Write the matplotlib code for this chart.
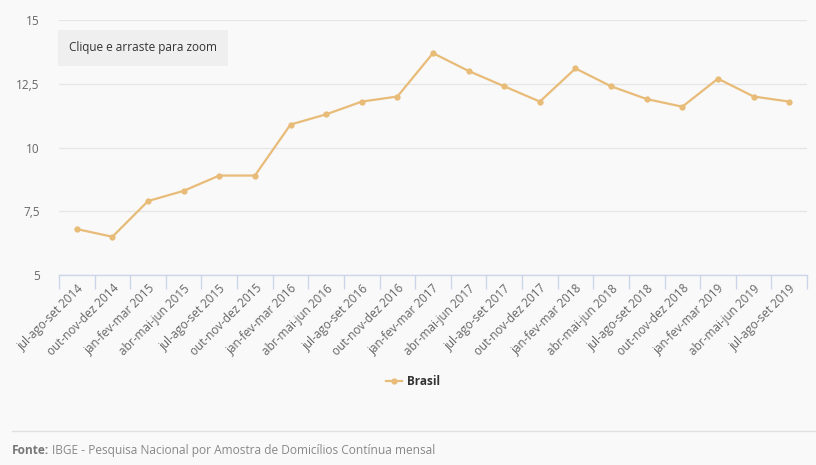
import matplotlib
matplotlib.use("Agg")
import matplotlib.pyplot as plt
from matplotlib.lines import Line2D

categories = ["jul-ago-set 2014", "out-nov-dez 2014", "jan-fev-mar 2015", "abr-mai-jun 2015",
              "jul-ago-set 2015", "out-nov-dez 2015", "jan-fev-mar 2016", "abr-mai-jun 2016",
              "jul-ago-set 2016", "out-nov-dez 2016", "jan-fev-mar 2017", "abr-mai-jun 2017",
              "jul-ago-set 2017", "out-nov-dez 2017", "jan-fev-mar 2018", "abr-mai-jun 2018",
              "jul-ago-set 2018", "out-nov-dez 2018", "jan-fev-mar 2019", "abr-mai-jun 2019",
              "jul-ago-set 2019"]
brasil = [6.8, 6.5, 7.9, 8.3, 8.9, 8.9, 10.9, 11.3, 11.8, 12.0, 13.7, 13.0,
          12.4, 11.8, 13.1, 12.4, 11.9, 11.6, 12.7, 12.0, 11.8]
yticks = [5, 7.5, 10, 12.5, 15]
ytick_labels = ["5", "7,5", "10", "12,5", "15"]

plt.rcParams['font.family'] = ['Open Sans', 'DejaVu Sans']
bg = "#f9f9f9"
line_col = "#e8bc78"
text_col = "#666666"

fig = plt.figure(figsize=(8.16, 4.65), dpi=100, facecolor=bg)
ax = fig.add_axes([59/816, 1-275/465, (807-59)/816, 255/465], facecolor=bg)

x = list(range(len(categories)))
ax.plot(x, brasil, color=line_col, lw=1.6, marker='o', ms=3.5, zorder=3)

ax.set_xlim(-0.5, len(categories)-0.5)
ax.set_ylim(5, 15)
ax.set_yticks(yticks)
ax.set_yticklabels(ytick_labels, color=text_col, fontsize=8.5)
ax.grid(axis='y', color="#e6e6e6", lw=1)
ax.set_axisbelow(True)
for s in ['top', 'right', 'left']:
    ax.spines[s].set_visible(False)
ax.spines['bottom'].set_color("#ccd6eb")
ax.spines['bottom'].set_linewidth(1)
ax.tick_params(axis='y', length=0, pad=14)

ax.set_xticks(x)
ax.set_xticklabels(categories, rotation=45, ha='right', rotation_mode='anchor',
                   color=text_col, fontsize=8.5)
ax.set_xticks([i-0.5 for i in range(len(categories)+1)], minor=True)
ax.tick_params(axis='x', which='major', length=0, pad=5)
ax.tick_params(axis='x', which='minor', length=10, color="#ccd6eb", width=1)

# zoom hint box
fig.text(143/816, 1-48/465, "Clique e arraste para zoom", ha='center', va='center',
         fontsize=8.5, color="#333333",
         bbox=dict(boxstyle='square,pad=0.95', fc="#efefef", ec='none'))

# legend
fig.add_artist(Line2D([386/816, 402/816], [1-381/465]*2, color=line_col, lw=1.6,
                      transform=fig.transFigure))
fig.add_artist(Line2D([394/816], [1-381/465], color=line_col, marker='o', ms=3.5,
                      transform=fig.transFigure))
fig.text(407/816, 1-381/465, "Brasil", ha='left', va='center', fontsize=8.5,
         fontweight='bold', color="#333333")

# footer
fig.add_artist(Line2D([12/816, 1.0], [1-431/465]*2, color="#e0e0e0", lw=1,
                      transform=fig.transFigure))
t = fig.text(12/816, 1-450/465, "Fonte:", ha='left', va='center', fontsize=8.6,
             fontweight='bold', color="#777777")
fig.canvas.draw()
bb = t.get_window_extent()
fig.text((bb.x1 + 3)/816, 1-450/465, "IBGE - Pesquisa Nacional por Amostra de Domicílios Contínua mensal",
         ha='left', va='center', fontsize=8.6, color="#888888")

fig.savefig("out.png", dpi=100, facecolor=bg)
